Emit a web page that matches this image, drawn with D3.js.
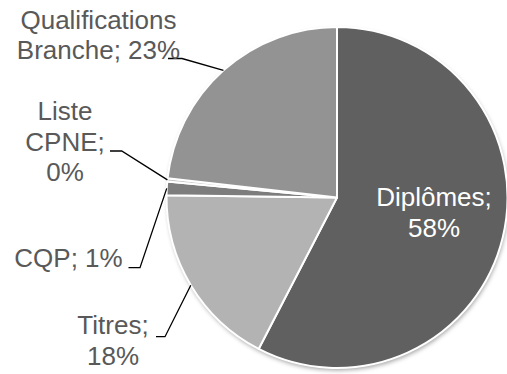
<!DOCTYPE html>
<html>
<head>
<meta charset="utf-8">
<script src="https://cdn.jsdelivr.net/npm/d3@7"></script>
<style>
  html, body { margin: 0; padding: 0; background: #ffffff; }
  svg { display: block; }
  text { font-family: "Liberation Sans", Arial, sans-serif; }
</style>
</head>
<body>
<svg id="chart" width="507" height="374"></svg>
<script>
// ---- data ----
const categories = ["Diplômes", "Titres", "CQP", "Liste CPNE", "Qualifications Branche"];
const values = [57.6, 17.6, 1.3, 0.3, 23.2];
const colors = ["#606060", "#b3b3b3", "#7d7d7d", "#c8c8c8", "#939393"];

// ---- layout ----
const W = 507, H = 374;
const cx = 337, cy = 197.5, R = 170.5;
const fontSize = 26, lineH = 30.6;
// label layout: lines, anchor x, first baseline y, leader start (x,y), elbow x
const labelLayout = {
  "Diplômes": { lines: ["Diplômes;", "{p}"], x: 434, y: 206, fill: "#ffffff" },
  "Titres": { lines: ["Titres;", "{p}"], x: 113, y: 334.3, fill: "#595959", lead: [156, 336.7, 165] },
  "CQP": { lines: ["CQP; {p}"], x: 68.5, y: 266.7, fill: "#595959", lead: [128.5, 267.7, 140] },
  "Liste CPNE": { lines: ["Liste", "CPNE;", "{p}"], x: 65, y: 120, fill: "#595959", lead: [110, 151, 121.7] },
  "Qualifications Branche": { lines: ["Qualifications", "Branche; {p}"], x: 98.5, y: 28.7, fill: "#595959", lead: [168, 58.5, 182] }
};

const svg = d3.select("#chart");
const defs = svg.append("defs");
const f = defs.append("filter").attr("id", "sh").attr("x", "-20%").attr("y", "-20%").attr("width", "140%").attr("height", "140%");
f.append("feDropShadow").attr("dx", 1).attr("dy", 2.5).attr("stdDeviation", 2.2)
  .attr("flood-color", "#000").attr("flood-opacity", 0.35);

const data = categories.map((c, i) => ({ cat: c, value: values[i], color: colors[i] }));
const pie = d3.pie().value(d => d.value).sort(null);
const arcs = pie(data);
const arc = d3.arc().innerRadius(0).outerRadius(R);

const g = svg.append("g").attr("transform", `translate(${cx},${cy})`);
g.append("circle").attr("r", R).attr("fill", "#ffffff").attr("filter", "url(#sh)");
g.selectAll("path.slice").data(arcs).enter().append("path")
  .attr("class", "slice")
  .attr("d", arc)
  .attr("fill", d => d.data.color)
  .attr("stroke", "#ffffff")
  .attr("stroke-width", 2)
  .attr("stroke-linejoin", "round");

// leader lines
arcs.forEach(a => {
  const L = labelLayout[a.data.cat];
  if (!L.lead) return;
  const mid = (a.startAngle + a.endAngle) / 2;
  const px = cx + R * Math.sin(mid);
  const py = cy - R * Math.cos(mid);
  const [sx, sy, ex] = L.lead;
  svg.append("path")
    .attr("d", `M${sx},${sy} L${ex},${sy} L${px},${py}`)
    .attr("fill", "none")
    .attr("stroke", "#000000")
    .attr("stroke-width", 1.3);
});

// labels
const total = d3.sum(values);
arcs.forEach(a => {
  const L = labelLayout[a.data.cat];
  const pct = Math.round(a.data.value / total * 100) + "%";
  const t = svg.append("text")
    .attr("text-anchor", "middle")
    .attr("font-size", fontSize)
    .attr("fill", L.fill);
  L.lines.forEach((ln, i) => {
    t.append("tspan").attr("x", L.x).attr("y", L.y + i * lineH).text(ln.replace("{p}", pct));
  });
});
</script>
</body>
</html>
